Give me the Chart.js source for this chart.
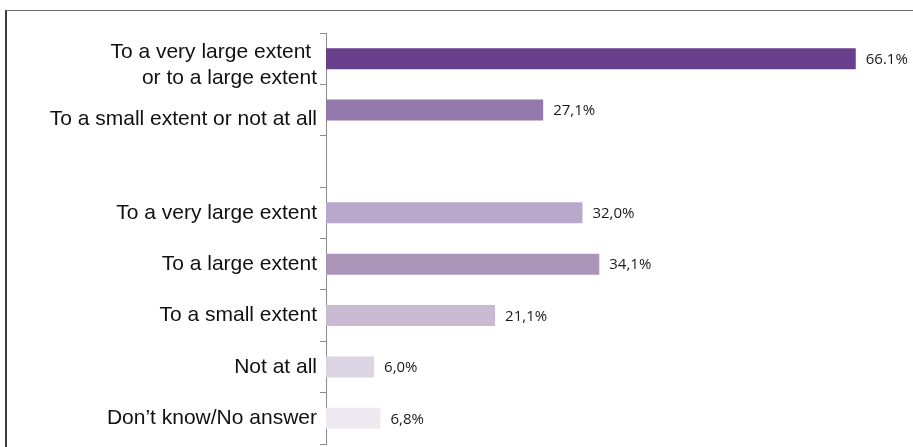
<!DOCTYPE html>
<html>
<head>
<meta charset="utf-8">
<script src="https://cdn.jsdelivr.net/npm/chart.js@4/dist/chart.umd.min.js"></script>
<style>
  html, body { margin: 0; padding: 0; background: #ffffff; }
  #wrap { position: relative; width: 913px; height: 447px; overflow: hidden; }
  #frame {
    position: absolute; left: 5px; top: 10px; width: 920px; height: 460px;
    border-left: 2px solid #3c3c3c; border-top: 1px solid #6a6a6a;
    box-sizing: border-box;
  }
  #chart { position: absolute; left: 0; top: 0; }
</style>
</head>
<body>
<div id="wrap">
  <div id="frame"></div>
  <canvas id="chart" width="913" height="447"></canvas>
</div>
<script>
// Survey answers: grouped totals, a blank spacer row, then the detailed breakdown
const categories = [
  ['To a very large extent ', 'or to a large extent'],
  'To a small extent or not at all',
  '',
  'To a very large extent',
  'To a large extent',
  'To a small extent',
  'Not at all',
  'Don\u2019t know/No answer'
];

const shares = [66.1, 27.1, null, 32.0, 34.1, 21.1, 6.0, 6.8];

const shareLabels = ['66.1%', '27,1%', '', '32,0%', '34,1%', '21,1%', '6,0%', '6,8%'];

const barColors = [
  '#673f8a', '#9479ad', '#ffffff', '#b9a7cc', '#aa94b8', '#c9bad2', '#ddd4e3', '#eee9f1'
];

// Writes the percentage to the right of each bar
const shareLabelPlugin = {
  id: 'shareLabels',
  afterDatasetsDraw(chart) {
    const ctx = chart.ctx;
    const meta = chart.getDatasetMeta(0);
    ctx.save();
    ctx.font = '15px "Open Sans", sans-serif';
    ctx.fillStyle = '#1a1a1a';
    ctx.textAlign = 'left';
    ctx.textBaseline = 'middle';
    meta.data.forEach((bar, i) => {
      if (shares[i] == null) return;
      ctx.fillText(shareLabels[i], bar.x + 10, bar.y + 1);
    });
    ctx.restore();
  }
};

new Chart(document.getElementById('chart'), {
  type: 'bar',
  data: {
    labels: categories,
    datasets: [{
      data: shares,
      backgroundColor: barColors,
      borderWidth: 0,
      barPercentage: 0.41,
      categoryPercentage: 1.0
    }]
  },
  options: {
    indexAxis: 'y',
    responsive: false,
    devicePixelRatio: 1,
    animation: false,
    layout: { padding: { left: 0, right: 26, top: 33, bottom: 3 } },
    plugins: { legend: { display: false }, tooltip: { enabled: false } },
    scales: {
      x: {
        display: false,
        min: 0,
        max: 70
      },
      y: {
        offset: true,
        afterFit(scale) {
          scale.width = 326;
          scale.paddingTop = 0;
          scale.paddingBottom = 0;
        },
        border: { display: true, color: '#8c8c8c', width: 1 },
        grid: {
          offset: true,
          drawOnChartArea: false,
          drawTicks: true,
          tickLength: 6,
          color: '#8c8c8c'
        },
        ticks: {
          autoSkip: false,
          padding: 3,
          color: '#111111',
          // spacer lines nudge the two grouped labels down a little
          callback(value, index) {
            const label = categories[index];
            if (index === 0) return ['', label[0], '', label[1]];
            if (index === 1) return ['', label];
            return label;
          },
          font(ctx) {
            const lh = ctx.index === 0 ? '13px' : (ctx.index === 1 ? '19px' : 1.2);
            return { family: '"Liberation Sans", Arial, sans-serif', size: 21, lineHeight: lh };
          }
        }
      }
    }
  },
  plugins: [shareLabelPlugin]
});
</script>
</body>
</html>
